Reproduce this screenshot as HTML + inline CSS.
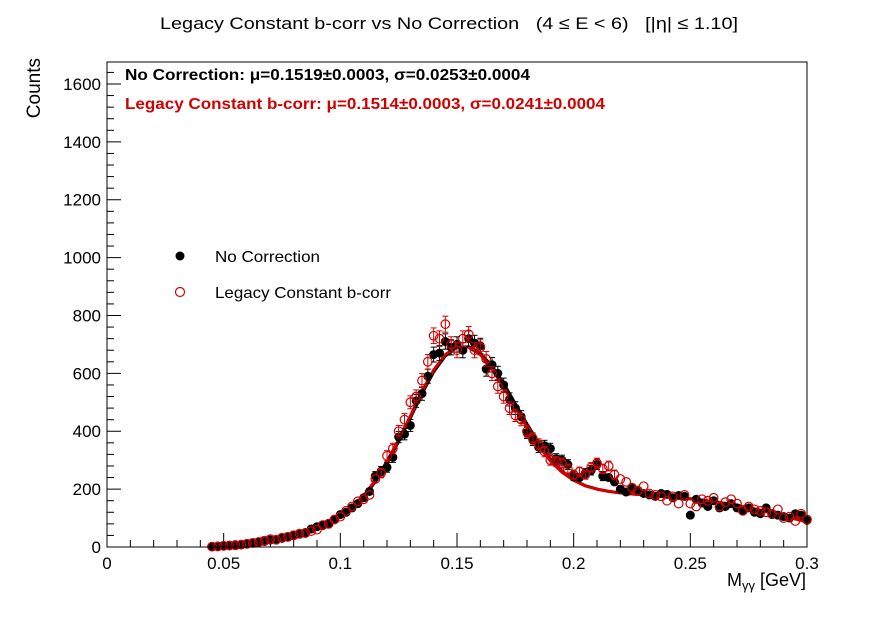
<!DOCTYPE html>
<html><head><meta charset="utf-8"><style>
body{margin:0;background:#fff;}
svg text{font-family:"Liberation Sans",sans-serif;white-space:pre;}
</style></head><body>
<svg id="chart" width="896" height="622" xmlns="http://www.w3.org/2000/svg">
<rect width="896" height="622" fill="#fff"/>
<text x="160" y="29" font-size="17" textLength="578" lengthAdjust="spacingAndGlyphs" xml:space="preserve">Legacy Constant b-corr vs No Correction   (4 ≤ E &lt; 6)   [|η| ≤ 1.10]</text>
<g id="axes"></g>
<g id="fits"></g>
<g id="marks"></g>
<rect x="107" y="62" width="700" height="485" fill="none" stroke="#000" stroke-width="1"/>
<text x="125" y="80" font-size="16" font-weight="bold" textLength="405" lengthAdjust="spacingAndGlyphs">No Correction: μ=0.1519±0.0003, σ=0.0253±0.0004</text>
<text x="125" y="109" font-size="16" font-weight="bold" fill="#d40000" textLength="480" lengthAdjust="spacingAndGlyphs">Legacy Constant b-corr: μ=0.1514±0.0003, σ=0.0241±0.0004</text>
<g>
<circle cx="180" cy="256" r="4.5" fill="#000"/>
<text x="215" y="262" font-size="16" textLength="105" lengthAdjust="spacingAndGlyphs">No Correction</text>
<circle cx="180" cy="292" r="4.5" fill="none" stroke="#d40000" stroke-width="1.2"/>
<text x="215" y="298" font-size="16" textLength="176" lengthAdjust="spacingAndGlyphs">Legacy Constant b-corr</text>
</g>
<text x="0" y="0" font-size="19" text-anchor="end" transform="translate(40,58) rotate(-90)">Counts</text>
<text x="806" y="586" font-size="18" text-anchor="end">M<tspan font-size="13" dy="4">γγ</tspan><tspan dy="-4"> [GeV]</tspan></text>
</svg>
<script>
const xStart = 0.045, xStep = 0.0025;
const blackCounts = [2,3,5,6,8,9,12,15,18,19,24,26,30,36,42,44,50,62,70,74,82,96,112,120,135,150,170,192,245,262,275,310,380,390,420,505,530,590,665,670,710,690,700,680,720,705,695,615,630,600,560,510,480,450,395,370,345,350,340,305,300,285,245,240,255,265,285,245,240,225,200,190,205,195,185,180,175,185,182,170,178,175,110,165,152,140,160,135,140,150,135,125,135,120,115,135,112,110,105,100,115,110,92];
const redCounts = [1,2,4,5,6,8,11,14,17,22,27,25,32,35,40,46,48,55,60,76,80,95,105,125,140,158,165,180,235,255,315,340,400,440,500,520,575,640,730,720,770,700,680,720,735,680,690,650,600,555,520,480,455,440,400,375,355,330,300,295,290,270,250,260,250,275,290,270,280,250,235,225,205,195,210,185,180,175,160,175,150,180,150,140,165,160,170,140,155,165,150,125,140,130,125,120,115,130,100,105,90,115,95];
const fitX = [0.045,0.05,0.055,0.06,0.065,0.07,0.075,0.08,0.085,0.09,0.095,0.1,0.105,0.11,0.115,0.12,0.125,0.13,0.135,0.14,0.145,0.15,0.155,0.16,0.165,0.17,0.175,0.18,0.185,0.19,0.195,0.2,0.205,0.21,0.215,0.22,0.225,0.23,0.235,0.24,0.245,0.25,0.255,0.26,0.265,0.27,0.275,0.28,0.285,0.29,0.295,0.3];
const blackFit = [2,5,8,12,17,23,30,40,52,67,85,108,137,175,225,290,365,445,530,605,660,690,692,670,625,565,495,425,360,305,262,232,212,200,192,187,183,180,177,174,171,167,162,157,151,144,136,127,117,107,97,87];
const redFit = [2,5,8,12,17,23,30,40,52,67,86,110,140,178,230,296,372,452,537,612,665,692,690,665,615,552,482,413,350,298,258,230,211,200,192,187,183,180,177,174,171,167,162,157,151,144,136,127,117,107,97,87];
const yTicks = [0,200,400,600,800,1000,1200,1400,1600];
const xTicks = [0,0.05,0.1,0.15,0.2,0.25,0.3];
const xTickLabels = ["0","0.05","0.1","0.15","0.2","0.25","0.3"];

const X0=107,X1=807,Y0=547,Y1=62,YMAX=1676,XMAX=0.3;
const sx = v => X0 + v/XMAX*(X1-X0);
const sy = v => Y0 - v/YMAX*(Y0-Y1);
const NS="http://www.w3.org/2000/svg";
function mk(tag, attrs, parent){const e=document.createElementNS(NS,tag);for(const k in attrs)e.setAttribute(k,attrs[k]);parent.appendChild(e);return e;}
const axes=document.getElementById('axes'), marks=document.getElementById('marks'), fits=document.getElementById('fits');

for(let v=0; v<=YMAX; v+=40){
  const major = v%200===0;
  const t=mk('line',{x1:X0,x2:X0+(major?14:7),y1:sy(v),y2:sy(v),stroke:'#000'},axes);
  
  
}
yTicks.forEach(v=>{
  const t=mk('text',{x:X0-6,y:sy(v)+6,'font-size':17,'text-anchor':'end'},axes);
  t.textContent=v;
  
  
});
for(let i=0;i<=30;i++){
  const v=i*0.01, major = i%5===0;
  const t=mk('line',{x1:sx(v),x2:sx(v),y1:Y0,y2:Y0-(major?14:7),stroke:'#000'},axes);
  
  
}
xTicks.forEach((v,i)=>{
  const t=mk('text',{x:sx(v),y:Y0+22,'font-size':17,'text-anchor':'middle'},axes);
  t.textContent=xTickLabels[i];
  
  
});
function fitPath(arr){return arr.map((v,i)=>(i?'L':'M')+sx(fitX[i]).toFixed(1)+' '+sy(v).toFixed(1)).join(' ');}
const fb=mk('path',{d:fitPath(blackFit),fill:'none',stroke:'#000','stroke-width':3,'stroke-linejoin':'round'},fits);


const fr=mk('path',{d:fitPath(redFit),fill:'none',stroke:'#d40000','stroke-width':3,'stroke-linejoin':'round'},fits);


function drawSeries(arr, color, filled, name){
  arr.forEach((v,i)=>{
    const cx=sx(xStart+i*xStep), cy=sy(v), e=Math.sqrt(v)/YMAX*(Y0-Y1);
    const g=mk('g',{},marks);
    
    
    if(e>4.5){
      mk('line',{x1:cx,x2:cx,y1:cy-e,y2:cy+e,stroke:color},g);
      mk('line',{x1:cx-3,x2:cx+3,y1:cy-e,y2:cy-e,stroke:color},g);
      mk('line',{x1:cx-3,x2:cx+3,y1:cy+e,y2:cy+e,stroke:color},g);
    }
    if(filled) mk('circle',{cx:cx,cy:cy,r:4.5,fill:color},g);
    else mk('circle',{cx:cx,cy:cy,r:4.3,fill:'none',stroke:color,'stroke-width':1.2},g);
  });
}
drawSeries(blackCounts,'#000',true,'point-no-correction');
drawSeries(redCounts,'#d40000',false,'point-legacy');
</script>
</body></html>
